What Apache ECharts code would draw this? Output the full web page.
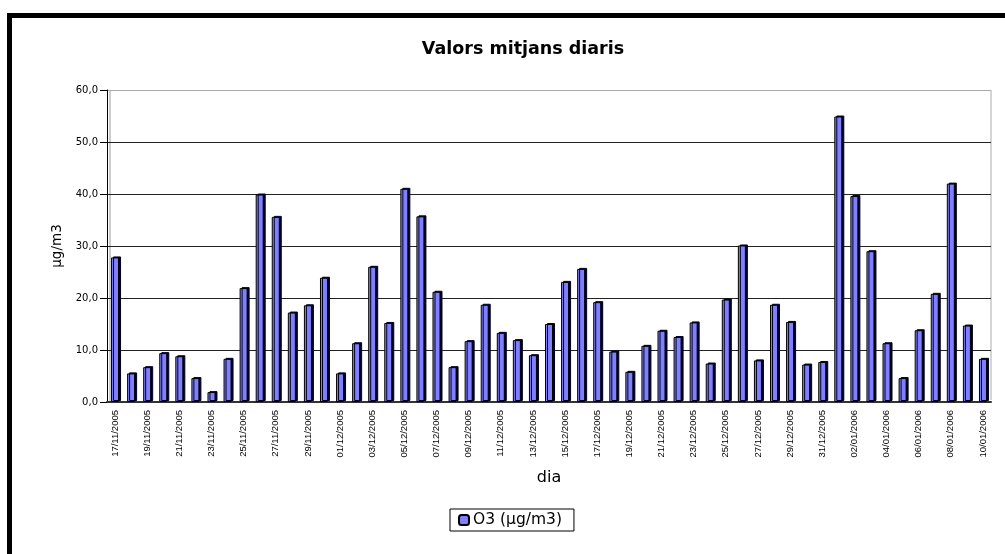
<!DOCTYPE html>
<html>
<head>
<meta charset="utf-8">
<script src="https://cdn.jsdelivr.net/npm/echarts@6/dist/echarts.min.js"></script>
<style>
  html, body { margin: 0; padding: 0; background: #fff; }
  #chart { width: 1005px; height: 554px; }
</style>
</head>
<body>
<div id="chart"></div>
<script>
// Daily mean O3 concentration, 17/11/2005 – 10/01/2006
const novDays = ['17/11/2005','18/11/2005','19/11/2005','20/11/2005','21/11/2005','22/11/2005','23/11/2005',
  '24/11/2005','25/11/2005','26/11/2005','27/11/2005','28/11/2005','29/11/2005','30/11/2005'];
const decDays = ['01/12/2005','02/12/2005','03/12/2005','04/12/2005','05/12/2005','06/12/2005','07/12/2005',
  '08/12/2005','09/12/2005','10/12/2005','11/12/2005','12/12/2005','13/12/2005','14/12/2005','15/12/2005',
  '16/12/2005','17/12/2005','18/12/2005','19/12/2005','20/12/2005','21/12/2005','22/12/2005','23/12/2005',
  '24/12/2005','25/12/2005','26/12/2005','27/12/2005','28/12/2005','29/12/2005','30/12/2005','31/12/2005'];
const janDays = ['01/01/2006','02/01/2006','03/01/2006','04/01/2006','05/01/2006','06/01/2006','07/01/2006',
  '08/01/2006','09/01/2006','10/01/2006'];

const novO3 = [27.8, 5.5, 6.7, 9.4, 8.8, 4.6, 1.9, 8.3, 21.9, 39.9, 35.6, 17.2, 18.6, 23.9];
const decO3 = [5.5, 11.3, 26.0, 15.2, 41.0, 35.7, 21.2, 6.7, 11.7, 18.7, 13.3, 11.9, 9.0, 15.0, 23.1,
  25.6, 19.2, 9.7, 5.8, 10.8, 13.7, 12.5, 15.3, 7.4, 19.7, 30.1, 8.0, 18.7, 15.4, 7.2, 7.7];
const janO3 = [54.9, 39.6, 29.0, 11.3, 4.6, 13.8, 20.8, 42.0, 14.7, 8.3];

const days = novDays.concat(decDays, janDays);
const o3 = novO3.concat(decO3, janO3);

const SANS = '"Liberation Sans", Arial, sans-serif';
const WIDE = '"DejaVu Sans", Verdana, sans-serif';

const chart = echarts.init(document.getElementById('chart'), null, { renderer: 'canvas' });
chart.setOption({
  animation: false,
  backgroundColor: '#ffffff',
  title: {
    text: 'Valors mitjans diaris',
    left: 518, top: 35, textAlign: 'center',
    textStyle: { fontFamily: WIDE, fontSize: 17.5, fontWeight: 'bold', color: '#000' }
  },
  legend: {
    data: ['O3 (µg/m3)'],
    left: 450, top: 509,
    padding: [3, 12, 3, 8],
    itemGap: 0,
    borderColor: '#000', borderWidth: 1,
    itemWidth: 10, itemHeight: 10,
    textStyle: { fontFamily: WIDE, fontSize: 15.5, color: '#000', padding: [0, 0, 0, -1] }
  },
  grid: { left: 107, right: 14, top: 90, bottom: 152, containLabel: false },
  xAxis: {
    type: 'category',
    data: days,
    name: 'dia',
    nameLocation: 'middle',
    nameGap: 68,
    nameTextStyle: { fontFamily: WIDE, fontSize: 16, color: '#000' },
    axisLine: { lineStyle: { color: '#333', width: 2 } },
    axisTick: { interval: 1, length: 5, lineStyle: { color: '#000' } },
    axisLabel: {
      interval: 1, rotate: 90, fontFamily: SANS, fontSize: 9.5, color: '#000', margin: 8
    }
  },
  yAxis: {
    type: 'value',
    min: 0, max: 60, interval: 10,
    name: 'µg/m3',
    nameLocation: 'middle',
    nameGap: 38,
    nameTextStyle: { fontFamily: WIDE, fontSize: 13.5, color: '#000' },
    axisLine: { show: true, lineStyle: { color: '#000', width: 1 } },
    axisTick: { show: true, length: 7, lineStyle: { color: '#000' } },
    axisLabel: {
      fontFamily: WIDE, fontSize: 10, color: '#000', margin: 9,
      formatter: v => v.toFixed(1).replace('.', ',')
    },
    splitLine: {
      show: true,
      lineStyle: { color: ['#000', '#222', '#222', '#222', '#222', '#222', '#aaa'], width: 1 }
    }
  },
  series: [{
    name: 'O3 (µg/m3)',
    type: 'bar',
    data: o3,
    barWidth: 8,
    itemStyle: {
      color: '#8080ff',
      borderColor: '#000',
      borderWidth: 1,
      shadowColor: '#000022',
      shadowOffsetX: 2,
      shadowOffsetY: -1,
      shadowBlur: 0
    }
  }],
  graphic: [
    // page frame
    { type: 'rect', shape: { x: 7, y: 13, width: 5, height: 560 }, style: { fill: '#000' } },
    { type: 'rect', shape: { x: 7, y: 13, width: 1010, height: 5 }, style: { fill: '#000' } },
    // back wall edges
    { type: 'line', shape: { x1: 991, y1: 90, x2: 991, y2: 400 }, style: { stroke: '#aaa', lineWidth: 1 } },
    { type: 'line', shape: { x1: 110, y1: 90, x2: 110, y2: 402 }, style: { stroke: '#999', lineWidth: 1 } }
  ]
});
</script>
</body>
</html>
